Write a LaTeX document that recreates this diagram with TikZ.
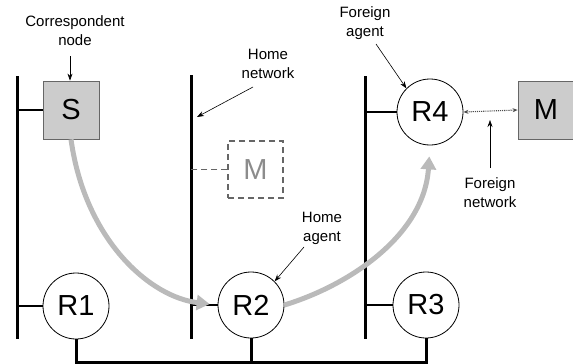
\documentclass[tikz,border=0pt]{standalone}
\usepackage{fontspec}
\setmainfont{Liberation Sans}
\usetikzlibrary{arrows.meta}
\begin{document}
\begin{tikzpicture}[x=1pt,y=-1pt,
  bus/.style={line width=3pt},
  stub/.style={line width=2.5pt},
  bigfont/.style={font=\fontsize{29}{29}\selectfont},
  router/.style={circle,draw,line width=0.8pt,minimum size=66pt,inner sep=0pt,bigfont},
  host/.style={rectangle,draw=black!60,fill=black!20,line width=0.8pt,minimum width=56pt,minimum height=58pt,inner sep=0pt,bigfont},
  ghost/.style={rectangle,draw=black!60,dash pattern=on 6pt off 4pt,line width=1.3pt,minimum width=55pt,minimum height=57pt,inner sep=0pt,text=black!45,bigfont},
  lbl/.style={align=center,font=\fontsize{15}{19}\selectfont,inner sep=0pt},
  pointer/.style={-{Stealth[length=7pt,width=5pt]},line width=0.6pt},
  route/.style={draw=black!27,line width=5pt,-{Triangle[length=13pt,width=15pt]}}
]
\useasboundingbox (0,0) rectangle (573,364);

% network segments
\coordinate (A1) at (17,76);  \coordinate (A2) at (17,339);
\coordinate (B1) at (191,75); \coordinate (B2) at (191,339);
\coordinate (C1) at (365,76); \coordinate (C2) at (365,339);
\draw[bus] (A1) -- (A2);
\draw[bus] (B1) -- (B2);
\draw[bus] (C1) -- (C2);

% hosts and routers
\node[host]   (S)  at (71,110)  {S};
\node[host]   (M)  at (546,110) {M};
\node[ghost]  (Mh) at (255.5,169.5) {M};
\node[router] (R1) at (76,306)  {R1};
\node[router] (R2) at (251,305) {R2};
\node[router] (R3) at (426,305) {R3};
\node[router] (R4) at (430,112) {R4};

% attachments to the segments
\draw[stub] (S.west) -- (S.west -| A1);
\draw[stub] (R1.west) -- (R1.west -| A1);
\draw[stub] (R2.west) -- (R2.west -| B1);
\draw[stub] (R3.west) -- (R3.west -| C1);
\draw[stub] (R4.west) -- (R4.west -| C1);
\draw[draw=black!60,line width=1.3pt,dash pattern=on 6pt off 4pt] (Mh.west) -- (Mh.west -| B1);

% backbone between routers
\coordinate (bus) at (0,362);
\draw[bus] (R1.south) -- (R1.south |- bus) -- (R3.south |- bus) -- (R3.south);
\draw[bus] (R2.south) -- (R2.south |- bus);

% wireless link of the mobile host
\draw[densely dotted,line width=1.1pt,draw=black!70,{Stealth[length=5pt,width=4pt]}-{Stealth[length=5pt,width=4pt]}] (R4.east) -- (M.west);

% packet route
\draw[route,shorten >=8pt] (S.south) .. controls (85,240) and (150,297) .. (R2.west);
\draw[route,shorten >=11pt] (R2.east) .. controls (350,285) and (424,235) .. (R4.south);

% labels
\node[lbl] (cn) at (75,31)  {Correspondent\\node};
\node[lbl] (hn) at (268,64) {Home\\network};
\node[lbl] (fa) at (365,23) {Foreign\\agent};
\node[lbl] (ha) at (322,228) {Home\\agent};
\node[lbl] (fn) at (490,193) {Foreign\\network};

\coordinate (cnA) at (70,56);
\draw[pointer] (cnA) -- (S.north -| cnA);
\coordinate (hnA) at (253,87);  \coordinate (hnB) at (197,117);
\draw[pointer] (hnA) -- (hnB);
\coordinate (faA) at (376,44);
\draw[pointer] (faA) -- (R4.north west);
\coordinate (haA) at (304,247);
\draw[pointer] (haA) -- (R2.north east);
\coordinate (fnA) at (490,168); \coordinate (fnB) at (490,120);
\draw[pointer] (fnA) -- (fnB);
\end{tikzpicture}
\end{document}
